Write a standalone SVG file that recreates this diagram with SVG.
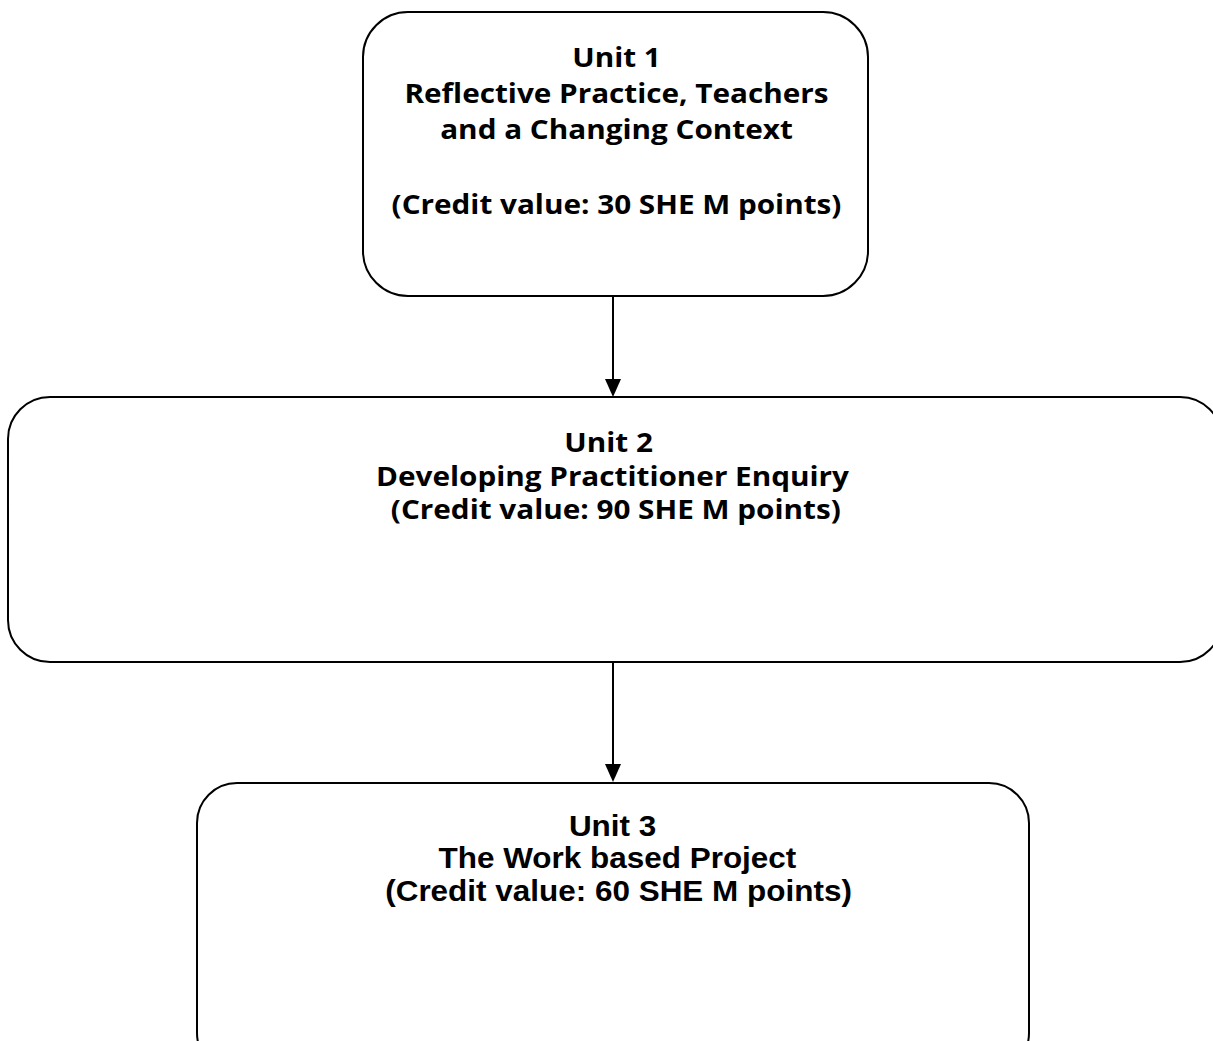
<svg xmlns="http://www.w3.org/2000/svg" width="1213" height="1041" viewBox="0 0 1213 1041">
<style>
.box{fill:#fff;stroke:#000;stroke-width:2}
.t1{font-family:"Open Sans","Noto Sans",sans-serif;font-weight:bold;font-size:27px;text-anchor:middle;fill:#000}
.t3{font-family:"Liberation Sans",Arial,sans-serif;font-weight:bold;font-size:29px;text-anchor:middle;fill:#000}
.conn{stroke:#000;stroke-width:2;fill:none}
</style>
<rect width="1213" height="1041" fill="#fff"/>
<g id="connectors">
<line class="conn" x1="613" y1="297" x2="613" y2="380"/>
<path d="M605,379 L621,379 L613,397 Z" fill="#000"/>
<line class="conn" x1="613" y1="662" x2="613" y2="765"/>
<path d="M605,764 L621,764 L613,782 Z" fill="#000"/>
</g>
<g id="unit1">
<rect class="box" x="363" y="12" width="505" height="284" rx="45" ry="45"/>
<g transform="translate(616.5,0) scale(1.1,1) translate(-616.5,0)">
<text class="t1" x="616.5" y="67">Unit 1</text>
<text class="t1" x="616.5" y="103">Reflective Practice, Teachers</text>
<text class="t1" x="616.5" y="139">and a Changing Context</text>
<text class="t1" x="616.5" y="214">(Credit value: 30 SHE M points)</text>
</g>
</g>
<g id="unit2">
<rect class="box" x="8" y="397" width="1214" height="265" rx="42" ry="42"/>
<g transform="translate(612.5,0) scale(1.1,1) translate(-612.5,0)">
<text class="t1" x="609" y="452">Unit 2</text>
<text class="t1" x="612.5" y="486">Developing Practitioner Enquiry</text>
<text class="t1" x="615.5" y="519">(Credit value: 90 SHE M points)</text>
</g>
</g>
<g id="unit3">
<rect class="box" x="197" y="783" width="832" height="290" rx="40" ry="40"/>
<g transform="translate(618,0) scale(1.085,1) translate(-618,0)">
<text class="t3" x="613" y="836">Unit 3</text>
<text class="t3" x="617.5" y="868">The Work based Project</text>
<text class="t3" x="618.5" y="901">(Credit value: 60 SHE M points)</text>
</g>
</g>
</svg>
